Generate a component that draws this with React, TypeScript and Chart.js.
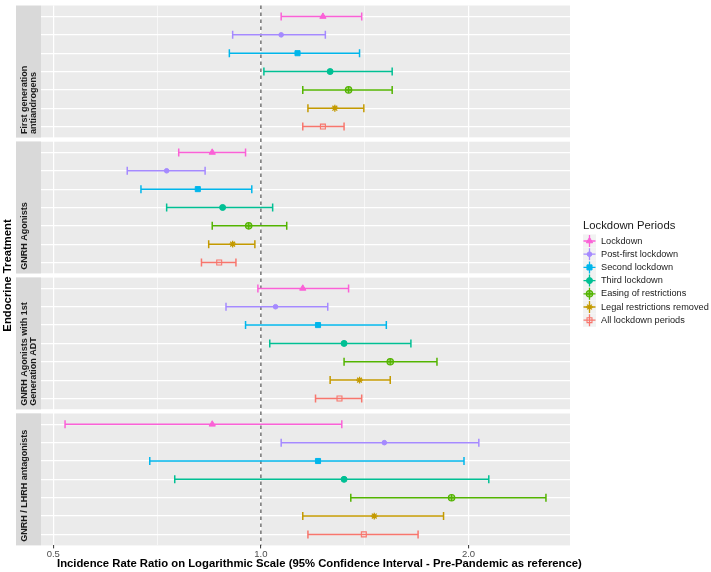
import React, { useEffect, useRef } from 'react';
import { Chart, registerables } from 'chart.js';
import { drawPoint } from 'chart.js/helpers';

Chart.register(...registerables);

// ---------- data ----------
const SERIES = [
  'Lockdown',
  'Post-first lockdown',
  'Second lockdown',
  'Third lockdown',
  'Easing of restrictions',
  'Legal restrictions removed',
  'All lockdown periods',
];
const COLORS = ['#FB61D7', '#A58AFF', '#00B6EB', '#00C094', '#53B400', '#C49A00', '#F8766D'];

const PANEL_LABELS = [
  ['First generation', 'antiandrogens'],
  ['GNRH Agonists'],
  ['GNRH Agonists with 1st', 'Generation ADT'],
  ['GNRH / LHRH antagonists'],
];

const firstGenEst = [1.23, 1.07, 1.13, 1.26, 1.34, 1.28, 1.23];
const firstGenLow = [1.07, 0.91, 0.90, 1.01, 1.15, 1.17, 1.15];
const firstGenHigh = [1.40, 1.24, 1.39, 1.55, 1.55, 1.41, 1.32];

const gnrhEst = [0.85, 0.73, 0.81, 0.88, 0.96, 0.91, 0.87];
const gnrhLow = [0.76, 0.64, 0.67, 0.73, 0.85, 0.84, 0.82];
const gnrhHigh = [0.95, 0.83, 0.97, 1.04, 1.09, 0.98, 0.92];

const gnrhAdtEst = [1.15, 1.05, 1.21, 1.32, 1.54, 1.39, 1.30];
const gnrhAdtLow = [0.99, 0.89, 0.95, 1.03, 1.32, 1.26, 1.20];
const gnrhAdtHigh = [1.34, 1.25, 1.52, 1.65, 1.80, 1.54, 1.40];

const antagEst = [0.85, 1.51, 1.21, 1.32, 1.89, 1.46, 1.41];
const antagLow = [0.52, 1.07, 0.69, 0.75, 1.35, 1.15, 1.17];
const antagHigh = [1.31, 2.07, 1.97, 2.14, 2.59, 1.84, 1.69];

const X_TICKS = [0.5, 1, 2];
const X_TICK_LABELS = ['0.5', '1.0', '2.0'];
const X_TITLE = 'Incidence Rate Ratio on Logarithmic Scale (95% Confidence Interval - Pre-Pandemic as reference)';
const Y_TITLE = 'Endocrine Treatment';
const LEGEND_TITLE = 'Lockdown Periods';

// ---------- derived ----------
const PANEL_DATA = [
  { est: firstGenEst, low: firstGenLow, high: firstGenHigh },
  { est: gnrhEst, low: gnrhLow, high: gnrhHigh },
  { est: gnrhAdtEst, low: gnrhAdtLow, high: gnrhAdtHigh },
  { est: antagEst, low: antagLow, high: antagHigh },
];

const FONT = "'Liberation Sans', Arial, Helvetica, sans-serif";
const NROWS = SERIES.length;
const EXPAND = 0.6;
const SPAN = NROWS - 1 + 2 * EXPAND;
const GAP = 0.21;
const NP = PANEL_DATA.length;
const Y_TOTAL = NP * SPAN + (NP - 1) * GAP;
const rowValue = (p: number, r: number) => p * (SPAN + GAP) + EXPAND + r;

const allLow = PANEL_DATA.flatMap((d) => d.low);
const allHigh = PANEL_DATA.flatMap((d) => d.high);
const lmin = Math.log2(Math.min(...allLow));
const lmax = Math.log2(Math.max(...allHigh));
const X_MIN = Math.pow(2, lmin - 0.05 * (lmax - lmin));
const X_MAX = Math.pow(2, lmax + 0.05 * (lmax - lmin));
const GRID_VALUES = [0.5, Math.SQRT1_2, 1, Math.SQRT2, 2];
const isMajor = (v: number) => X_TICKS.some((t) => Math.abs(t - v) < 1e-9);

const withAlpha = (hex: string, a: number) => {
  const n = parseInt(hex.slice(1), 16);
  return `rgba(${(n >> 16) & 255},${(n >> 8) & 255},${n & 255},${a})`;
};

type Marker = { style: string; radius: number; bw: number; fill: number; cross?: boolean };
const MARKERS: Marker[] = [
  { style: 'triangle', radius: 3.6, bw: 1, fill: 1 },
  { style: 'circle', radius: 2.3, bw: 1, fill: 1 },
  { style: 'rect', radius: 3.6, bw: 1, fill: 1 },
  { style: 'circle', radius: 3.0, bw: 1, fill: 1 },
  { style: 'circle', radius: 3.2, bw: 1.2, fill: 0.5, cross: true },
  { style: 'star', radius: 3.4, bw: 1.3, fill: 0 },
  { style: 'rect', radius: 3.5, bw: 1.1, fill: 0 },
];

function buildDatasets() {
  const ds: any[] = [];
  SERIES.forEach((name, s) => {
    const m = MARKERS[s];
    const c = COLORS[s];
    const pts = PANEL_DATA.map((d, p) => ({ x: d.est[s], y: rowValue(p, s) }));
    ds.push({
      label: name,
      order: 0,
      showLine: false,
      data: pts,
      pointStyle: m.style,
      pointRadius: m.radius,
      pointBorderWidth: m.bw,
      pointBorderColor: c,
      pointBackgroundColor: m.fill ? withAlpha(c, m.fill) : 'rgba(0,0,0,0)',
    });
    if (m.cross) {
      ds.push({
        label: name + ' cross',
        order: 0,
        showLine: false,
        data: pts,
        pointStyle: 'cross',
        pointRadius: m.radius,
        pointBorderWidth: 1.2,
        pointBorderColor: c,
      });
    }
    PANEL_DATA.forEach((d, p) => {
      const y = rowValue(p, s);
      ds.push({
        label: name + ' CI ' + p,
        order: 1,
        showLine: true,
        data: [
          { x: d.low[s], y },
          { x: d.high[s], y },
        ],
        borderColor: c,
        borderWidth: 1.5,
        pointStyle: 'line',
        pointRotation: 90,
        pointRadius: 4,
        pointBorderWidth: 1.5,
        pointBorderColor: c,
      });
    });
  });
  return ds;
}

const facetPlugin = {
  id: 'facets',
  beforeDraw(chart: any) {
    const { ctx, chartArea: a } = chart;
    const ys = chart.scales.y;
    ctx.save();
    ctx.fillStyle = '#FFFFFF';
    ctx.fillRect(0, 0, chart.width, chart.height);
    PANEL_LABELS.forEach((lines, p) => {
      const top = ys.getPixelForValue(p * (SPAN + GAP));
      const bot = ys.getPixelForValue(p * (SPAN + GAP) + SPAN);
      ctx.fillStyle = '#EBEBEB';
      ctx.fillRect(a.left, top, a.right - a.left, bot - top);
      ctx.fillStyle = '#D9D9D9';
      ctx.fillRect(16, top, a.left - 16, bot - top);
      ctx.fillStyle = '#1A1A1A';
      ctx.font = `bold 9px ${FONT}`;
      ctx.textAlign = 'left';
      ctx.textBaseline = 'alphabetic';
      lines.forEach((line, i) => {
        ctx.save();
        ctx.translate(26.8 + i * 9.6, bot - 3.7);
        ctx.rotate(-Math.PI / 2);
        ctx.fillText(line, 0, 0);
        ctx.restore();
      });
    });
    ctx.restore();
  },
  beforeDatasetsDraw(chart: any) {
    const { ctx, chartArea: a } = chart;
    const ys = chart.scales.y;
    const xs = chart.scales.x;
    ctx.save();
    ctx.fillStyle = '#FFFFFF';
    for (let p = 0; p < NP - 1; p++) {
      const y1 = ys.getPixelForValue(p * (SPAN + GAP) + SPAN);
      const y2 = ys.getPixelForValue((p + 1) * (SPAN + GAP));
      ctx.fillRect(a.left, y1, a.right - a.left, y2 - y1);
    }
    const x1 = xs.getPixelForValue(1);
    ctx.strokeStyle = '#1A1A1A';
    ctx.lineWidth = 0.9;
    ctx.setLineDash([3.5, 3.5]);
    ctx.beginPath();
    ctx.moveTo(x1, a.top);
    ctx.lineTo(x1, a.bottom);
    ctx.stroke();
    ctx.restore();
  },
  afterDraw(chart: any) {
    const { ctx, chartArea: a } = chart;
    ctx.save();
    ctx.fillStyle = '#000000';
    ctx.font = `bold 11.3px ${FONT}`;
    ctx.textBaseline = 'alphabetic';
    // x title
    ctx.textAlign = 'left';
    ctx.fillText(X_TITLE, 57, 566.5);
    // y title
    ctx.save();
    ctx.translate(10.5, (a.top + a.bottom) / 2);
    ctx.rotate(-Math.PI / 2);
    ctx.textAlign = 'center';
    ctx.fillText(Y_TITLE, 0, 0);
    ctx.restore();
    // legend
    const lx = 583;
    ctx.font = `11.3px ${FONT}`;
    ctx.fillStyle = '#1A1A1A';
    ctx.textAlign = 'left';
    ctx.fillText(LEGEND_TITLE, lx, 229);
    SERIES.forEach((name, s) => {
      const cy = 241 + s * 13.2;
      const m = MARKERS[s];
      const c = COLORS[s];
      ctx.fillStyle = '#F2F2F2';
      ctx.fillRect(lx, cy - 6.6, 13, 13.2);
      const cx = lx + 6.5;
      ctx.strokeStyle = c;
      ctx.lineWidth = 1.3;
      ctx.setLineDash([]);
      ctx.beginPath();
      ctx.moveTo(lx + 0.5, cy);
      ctx.lineTo(lx + 12.5, cy);
      ctx.moveTo(cx, cy - 6);
      ctx.lineTo(cx, cy + 6);
      ctx.stroke();
      ctx.fillStyle = m.fill ? withAlpha(c, m.fill) : 'rgba(0,0,0,0)';
      ctx.lineWidth = m.bw;
      drawPoint(ctx, { pointStyle: m.style, rotation: 0, radius: m.radius, borderWidth: m.bw } as any, cx, cy);
      if (m.cross) {
        ctx.lineWidth = 1.2;
        drawPoint(ctx, { pointStyle: 'cross', rotation: 0, radius: m.radius, borderWidth: 1.2 } as any, cx, cy);
      }
      ctx.fillStyle = '#1A1A1A';
      ctx.font = `9.2px ${FONT}`;
      ctx.textBaseline = 'middle';
      ctx.fillText(name, 601, cy);
      ctx.textBaseline = 'alphabetic';
    });
    ctx.restore();
  },
};

export default function App() {
  const ref = useRef<HTMLCanvasElement>(null);
  useEffect(() => {
    document.body.style.margin = '0';
    const chart = new Chart(ref.current as HTMLCanvasElement, {
      type: 'scatter',
      data: { datasets: buildDatasets() },
      options: {
        animation: false,
        responsive: false,
        devicePixelRatio: 1,
        events: [],
        layout: { padding: { left: 41, right: 141, top: 2.5, bottom: 0 } },
        plugins: { legend: { display: false }, tooltip: { enabled: false } },
        scales: {
          x: {
            type: 'logarithmic',
            min: X_MIN,
            max: X_MAX,
            afterBuildTicks: (s: any) => {
              s.ticks = GRID_VALUES.map((v) => ({ value: v }));
            },
            afterFit: (s: any) => {
              s.height = 26.6;
            },
            ticks: {
              autoSkip: false,
              maxRotation: 0,
              minRotation: 0,
              padding: 0.5,
              color: '#4D4D4D',
              font: { family: FONT, size: 9.5 },
              callback: (v: any) => {
                const i = X_TICKS.findIndex((t) => Math.abs(t - Number(v)) < 1e-9);
                return i >= 0 ? X_TICK_LABELS[i] : '';
              },
            },
            grid: {
              color: '#FFFFFF',
              lineWidth: (c: any) => (c.tick && isMajor(c.tick.value) ? 1.2 : 0.6),
              drawTicks: true,
              tickLength: 3,
              tickWidth: 1,
              tickColor: (c: any) => (c.tick && isMajor(c.tick.value) ? '#333333' : 'rgba(0,0,0,0)'),
            },
            border: { display: false },
          },
          y: {
            type: 'linear',
            min: 0,
            max: Y_TOTAL,
            reverse: true,
            afterBuildTicks: (s: any) => {
              const t: any[] = [];
              for (let p = 0; p < NP; p++) for (let r = 0; r < NROWS; r++) t.push({ value: rowValue(p, r) });
              s.ticks = t;
            },
            afterFit: (s: any) => {
              s.width = 0;
            },
            ticks: { display: false },
            grid: { color: '#FFFFFF', lineWidth: 1.2, drawTicks: false },
            border: { display: false },
          },
        },
      } as any,
      plugins: [facetPlugin],
    });
    return () => chart.destroy();
  }, []);
  return (
    <div style={{ position: 'fixed', left: 0, top: 0, width: 711, height: 572, background: '#FFFFFF' }}>
      <canvas ref={ref} width={711} height={572} style={{ display: 'block', width: 711, height: 572 }} />
    </div>
  );
}
